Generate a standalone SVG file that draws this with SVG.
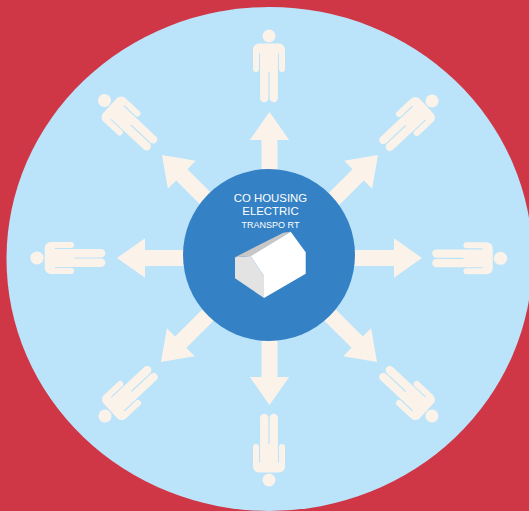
<svg xmlns="http://www.w3.org/2000/svg" width="529" height="511" viewBox="0 0 529 511">
<style>
text{font-family:"Liberation Sans",Arial,sans-serif;fill:#fff;text-anchor:middle}
.c{fill:#fbf3e9}
</style>
<defs>
<g id="person" class="c">
<circle cx="0" cy="0" r="6.500"/>
<path d="M-10 7.500H10a6 6 0 0 1 6 6V33a3 3 0 0 1-6 0V17.500H8.900V62.150a4.150 4.150 0 0 1-8.300 0V36H-.6V62.150a4.150 4.150 0 0 1-8.300 0V17.500H-10V33a3 3 0 0 1-6 0V13.500a6 6 0 0 1 6-6Z"/>
</g>
<path id="arrow" class="c" d="M0 0L19.700 28H8V72H-8V28H-19.700Z"/>
</defs>
<rect id="background" width="529" height="511" fill="#cf3646"/>
<ellipse id="field" cx="269.500" cy="259" rx="263" ry="252" fill="#bbe3fa"/>
<g id="connectors">
<use href="#arrow" transform="translate(269.500 112)"/>
<use href="#arrow" transform="translate(378 155) rotate(45)"/>
<use href="#arrow" transform="translate(422 258) rotate(90)"/>
<use href="#arrow" transform="translate(377 362) rotate(135)"/>
<use href="#arrow" transform="translate(269.500 405) rotate(180)"/>
<use href="#arrow" transform="translate(161 362) rotate(225)"/>
<use href="#arrow" transform="translate(117 258) rotate(270)"/>
<use href="#arrow" transform="translate(162 155) rotate(315)"/>
</g>
<g id="person-n"><use href="#person" transform="translate(269 36)"/></g>
<g id="person-ne"><use href="#person" transform="translate(432 101) rotate(47)"/></g>
<g id="person-e"><use href="#person" transform="translate(500.500 258.300) rotate(90) scale(1 1.030)"/></g>
<g id="person-se"><use href="#person" transform="translate(432 416) rotate(133)"/></g>
<g id="person-s"><use href="#person" transform="translate(269 480) rotate(180)"/></g>
<g id="person-sw"><use href="#person" transform="translate(105 416) rotate(-133)"/></g>
<g id="person-w"><use href="#person" transform="translate(37 258) rotate(-90) scale(1 1.030)"/></g>
<g id="person-nw"><use href="#person" transform="translate(104.500 100.500) rotate(-47)"/></g>
<g id="hub">
<circle cx="269" cy="255" r="86" fill="#3581c5"/>
<text x="270.500" y="202" font-size="11.400">CO HOUSING</text>
<text x="270.500" y="215" font-size="11.400">ELECTRIC</text>
<text x="270.500" y="227.500" font-size="9">TRANSPO RT</text>
<path fill="#e3e3e3" d="M235 257.300L250.700 256L264 276V298L235 278.300Z"/>
<path fill="#c9c7c5" d="M235 257.300L283.300 232.700L290.700 231.700L250.700 256Z"/>
<path fill="#fff" d="M250.700 256L290.700 231.700L305.700 252.300V273.700L264 298V276Z"/>
</g>
</svg>
